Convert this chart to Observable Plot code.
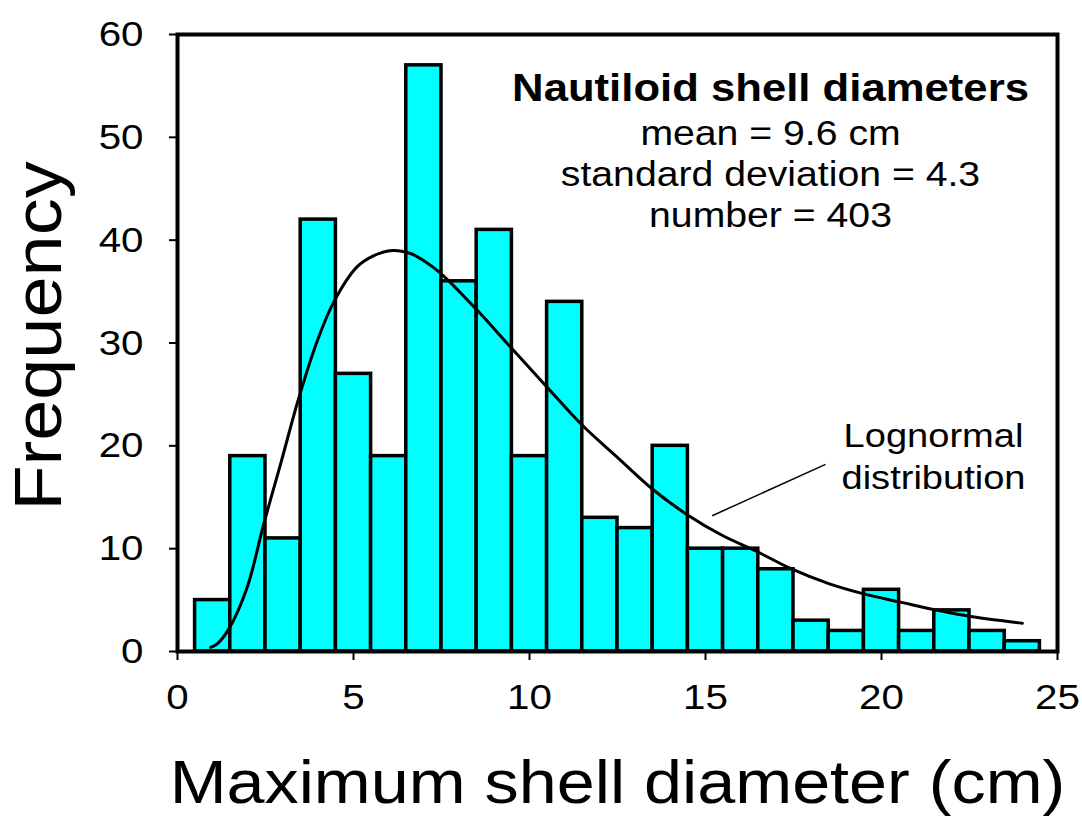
<!DOCTYPE html>
<html>
<head>
<meta charset="utf-8">
<script src="https://cdn.jsdelivr.net/npm/d3@7"></script>
<script src="https://cdn.jsdelivr.net/npm/@observablehq/plot@0.6"></script>
<style>
  html, body { margin: 0; padding: 0; background: white; }
  #chart { width: 1082px; height: 817px; }
</style>
</head>
<body>
<div id="chart"></div>
<script>
// ---- data ----
const binCenters = [1, 2, 3, 4, 5, 6, 7, 8, 9, 10, 11, 12, 13, 14, 15, 16, 17, 18, 19, 20, 21, 22, 23, 24];
const counts     = [5, 19, 11, 42, 27, 19, 57, 36, 41, 19, 34, 13, 12, 20, 10, 10, 8, 3, 2, 6, 2, 4, 2, 1];

const curveX = [0.94, 1.13, 1.46, 1.98, 2.45, 2.93, 3.45, 3.97, 4.44, 5.1, 5.58, 6.1, 6.62, 7.0, 7.47, 8.51, 9.46, 10.5, 11.5, 12.49, 13.49, 14.48, 15.47, 16.47, 17.46, 18.5, 19.5, 20.54, 21.53, 22.53, 24.0];
const curveY = [0.4, 0.75, 2.2, 6.25, 12.4, 18.25, 24.7, 30.2, 34.0, 37.4, 38.5, 39.0, 38.7, 38.0, 36.8, 33.2, 29.6, 25.7, 22.0, 18.9, 15.8, 13.3, 11.3, 9.7, 8.0, 6.6, 5.6, 4.8, 4.05, 3.4, 2.75];

const xTicks = [0, 5, 10, 15, 20, 25];
const yTicks = [0, 10, 20, 30, 40, 50, 60];

const titleText = "Nautiloid shell diameters";
const statLines = ["mean = 9.6 cm", "standard deviation = 4.3", "number = 403"];
const curveLabel = ["Lognormal", "distribution"];
const pointerX = [15.19, 18.41];
const pointerY = [13.2, 18.2];
const xLabel = "Maximum shell diameter (cm)";
const yLabel = "Frequency";

// ---- build tables ----
const bars = binCenters.map((c, i) => ({x1: c - 0.5, x2: c + 0.5, count: counts[i]}));
const curve = curveX.map((x, i) => ({x, y: curveY[i]}));

const font = "'Liberation Sans', Arial, Helvetica, sans-serif";
const statBaselines = [110, 151, 192]; // pixel offsets below frame top
const labelBaselines = [412, 454];

const chart = Plot.plot({
  width: 1082,
  height: 817,
  marginLeft: 177,
  marginRight: 25,
  marginTop: 34,
  marginBottom: 166,
  style: {fontFamily: font, fontSize: "36px", background: "white", color: "black"},
  x: {domain: [0, 25]},
  y: {domain: [0, 60]},
  marks: [
    Plot.rectY(bars, {x1: "x1", x2: "x2", y: "count", fill: "#00FFFF", stroke: "black", strokeWidth: 3.5}),
    Plot.line(curve, {x: "x", y: "y", curve: "catmull-rom", stroke: "black", strokeWidth: 3}),
    Plot.link([0], {x1: () => pointerX[0], y1: () => pointerY[0], x2: () => pointerX[1], y2: () => pointerY[1], stroke: "black", strokeWidth: 1.5}),
    Plot.frame({stroke: "black", strokeWidth: 4}),
    Plot.axisX(xTicks, {tickSize: 9, tickPadding: 23, strokeWidth: 2, fontSize: 36, label: null}),
    Plot.axisY(yTicks, {tickSize: 8, tickPadding: 26, strokeWidth: 2, fontSize: 36, label: null}),
    // title & stats
    Plot.text([titleText], {text: d => d, frameAnchor: "top-left", dx: 593, dy: 66, textAnchor: "middle", lineAnchor: "bottom", fontWeight: "bold", fontSize: 39}),
    ...statLines.map((s, i) => Plot.text([s], {text: d => d, frameAnchor: "top-left", dx: 593, dy: statBaselines[i], textAnchor: "middle", lineAnchor: "bottom", fontSize: 35})),
    // curve label
    ...curveLabel.map((s, i) => Plot.text([s], {text: d => d, frameAnchor: "top-left", dx: 756, dy: labelBaselines[i], textAnchor: "middle", lineAnchor: "bottom", fontSize: 34})),
    // axis titles
    Plot.text([xLabel], {text: d => d, frameAnchor: "bottom", dy: 151, textAnchor: "middle", lineAnchor: "bottom", fontSize: 61}),
    Plot.text([yLabel], {text: d => d, frameAnchor: "left", dx: -117, dy: -7, rotate: -90, textAnchor: "middle", lineAnchor: "bottom", fontSize: 66})
  ]
});

// the reference face is a little wider than Liberation Sans: widen glyphs along the text direction
const STRETCH = 1.12;
chart.querySelectorAll("text").forEach(el => {
  let t = el.getAttribute("transform");
  if (!t) {
    const x = +(el.getAttribute("x") || 0), y = +(el.getAttribute("y") || 0);
    el.removeAttribute("x"); el.removeAttribute("y");
    t = `translate(${x},${y})`;
  }
  el.setAttribute("transform", `${t} scale(${STRETCH},1)`);
});

document.getElementById("chart").appendChild(chart);
</script>
</body>
</html>
